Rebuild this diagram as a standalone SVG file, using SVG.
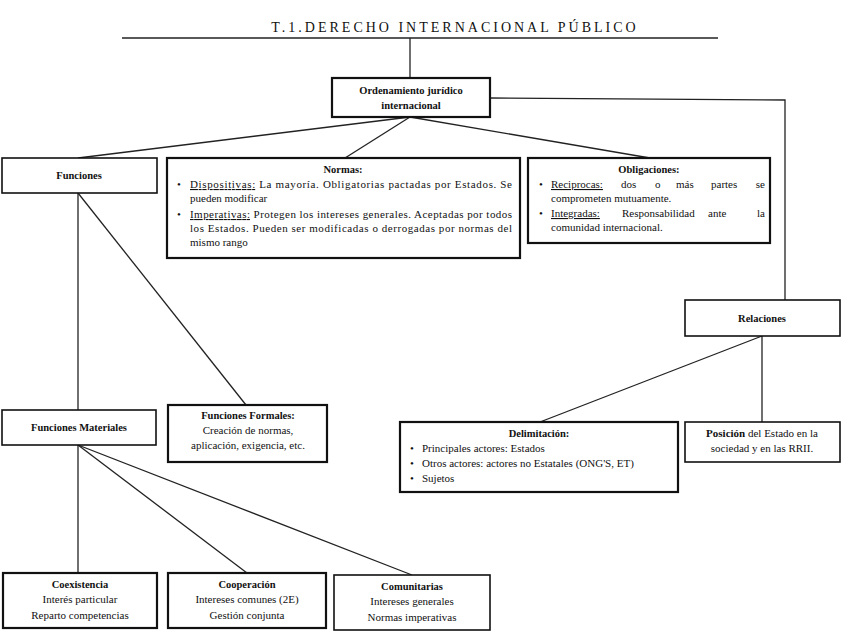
<svg xmlns="http://www.w3.org/2000/svg" width="848" height="636" viewBox="0 0 848 636">
<style>
text{font-family:"Liberation Serif","Times New Roman",Times,serif;fill:#111;font-size:11px}
.b{font-weight:bold}
.c{text-anchor:middle}
.t{font-size:10.5px;font-weight:bold}
.u{text-decoration:underline}
.box{fill:#fff;stroke:#111;stroke-width:1.6}
.bx{fill:#fff;stroke:#111;stroke-width:2.2}
.ln{stroke:#222;stroke-width:1.3;fill:none}
</style>
<rect width="848" height="636" fill="#fff"/>
<g id="title">
<text x="455" y="32" class="c" style="font-size:14px;letter-spacing:3px">T.1.DERECHO INTERNACIONAL PÚBLICO</text>
</g>
<g id="connectors">
<line class="ln" x1="122" y1="38" x2="718" y2="38"/>
<line class="ln" x1="410" y1="38" x2="410" y2="78"/>
<polyline class="ln" points="490,98 785,100 785,300"/>
<line class="ln" x1="410" y1="117" x2="78" y2="158"/>
<line class="ln" x1="410" y1="117" x2="345" y2="158"/>
<line class="ln" x1="410" y1="117" x2="650" y2="158"/>
<line class="ln" x1="78" y1="193" x2="78" y2="410"/>
<line class="ln" x1="78" y1="193" x2="246" y2="405"/>
<line class="ln" x1="78" y1="445" x2="78" y2="573"/>
<line class="ln" x1="78" y1="445" x2="247" y2="573"/>
<line class="ln" x1="78" y1="445" x2="412" y2="575"/>
<line class="ln" x1="762" y1="336" x2="540" y2="422"/>
<line class="ln" x1="762" y1="336" x2="762" y2="422"/>
</g>
<g id="ordenamiento">
<rect class="bx" x="332" y="78" width="158" height="39"/>
<text x="411" y="94" class="c t">Ordenamiento jurídico</text>
<text x="411" y="109" class="c t">internacional</text>
</g>
<g id="funciones">
<rect class="box" x="2" y="158" width="155" height="35"/>
<text x="79" y="179" class="c t">Funciones</text>
</g>
<g id="normas">
<rect class="bx" x="167" y="158" width="353" height="100"/>
<text x="343" y="173" class="c t">Normas:</text>
<text x="177" y="188">•</text>
<text x="190" y="188" textLength="322" lengthAdjust="spacing"><tspan class="u">Dispositivas:</tspan> La mayoría. Obligatorias pactadas por Estados. Se</text>
<text x="190" y="202">pueden modificar</text>
<text x="177" y="218">•</text>
<text x="190" y="218" textLength="322" lengthAdjust="spacing"><tspan class="u">Imperativas:</tspan> Protegen los intereses generales. Aceptadas por todos</text>
<text x="190" y="232" textLength="322" lengthAdjust="spacing">los Estados. Pueden ser modificadas o derrogadas por normas del</text>
<text x="190" y="246">mismo rango</text>
</g>
<g id="obligaciones">
<rect class="bx" x="528" y="158" width="242" height="85"/>
<text x="649" y="173" class="c t">Obligaciones:</text>
<text x="539" y="188">•</text>
<text x="551" y="188"><tspan class="u">Reciprocas:</tspan></text>
<text x="621" y="188">dos</text>
<text x="655" y="188">o</text>
<text x="676" y="188">más</text>
<text x="711" y="188">partes</text>
<text x="765" y="188" text-anchor="end">se</text>
<text x="551" y="202">comprometen mutuamente.</text>
<text x="539" y="217">•</text>
<text x="551" y="217"><tspan class="u">Integradas:</tspan></text>
<text x="622" y="217">Responsabilidad</text>
<text x="708" y="217">ante</text>
<text x="765" y="217" text-anchor="end">la</text>
<text x="551" y="231">comunidad internacional.</text>
</g>
<g id="relaciones">
<rect class="box" x="685" y="300" width="155" height="36"/>
<text x="762" y="322" class="c t">Relaciones</text>
</g>
<g id="funciones-materiales">
<rect class="box" x="2" y="410" width="154" height="35"/>
<text x="79" y="431" class="c t">Funciones Materiales</text>
</g>
<g id="funciones-formales">
<rect class="bx" x="168" y="405" width="159" height="57"/>
<text x="248" y="419" class="c t">Funciones Formales:</text>
<text x="248" y="434" class="c">Creación de normas,</text>
<text x="248" y="449" class="c">aplicación, exigencia, etc.</text>
</g>
<g id="delimitacion">
<rect class="bx" x="400" y="422" width="278" height="70"/>
<text x="539" y="437" class="c t">Delimitación:</text>
<text x="410" y="452">•</text>
<text x="422" y="452">Principales actores: Estados</text>
<text x="410" y="467">•</text>
<text x="422" y="467">Otros actores: actores no Estatales (ONG'S, ET)</text>
<text x="410" y="482">•</text>
<text x="422" y="482">Sujetos</text>
</g>
<g id="posicion">
<rect class="box" x="685" y="422" width="155" height="40"/>
<text x="762" y="437" class="c"><tspan class="b">Posición</tspan> del Estado en la</text>
<text x="762" y="452" class="c">sociedad y en las RRII.</text>
</g>
<g id="coexistencia">
<rect class="bx" x="3" y="573" width="154" height="55"/>
<text x="80" y="588" class="c t">Coexistencia</text>
<text x="80" y="603" class="c">Interés particular</text>
<text x="80" y="619" class="c">Reparto competencias</text>
</g>
<g id="cooperacion">
<rect class="bx" x="168" y="573" width="158" height="55"/>
<text x="247" y="588" class="c t">Cooperación</text>
<text x="247" y="603" class="c">Intereses comunes (2E)</text>
<text x="247" y="619" class="c">Gestión conjunta</text>
</g>
<g id="comunitarias">
<rect class="box" x="334" y="575" width="156" height="55"/>
<text x="412" y="590" class="c t">Comunitarias</text>
<text x="412" y="605" class="c">Intereses generales</text>
<text x="412" y="621" class="c">Normas imperativas</text>
</g>
</svg>
